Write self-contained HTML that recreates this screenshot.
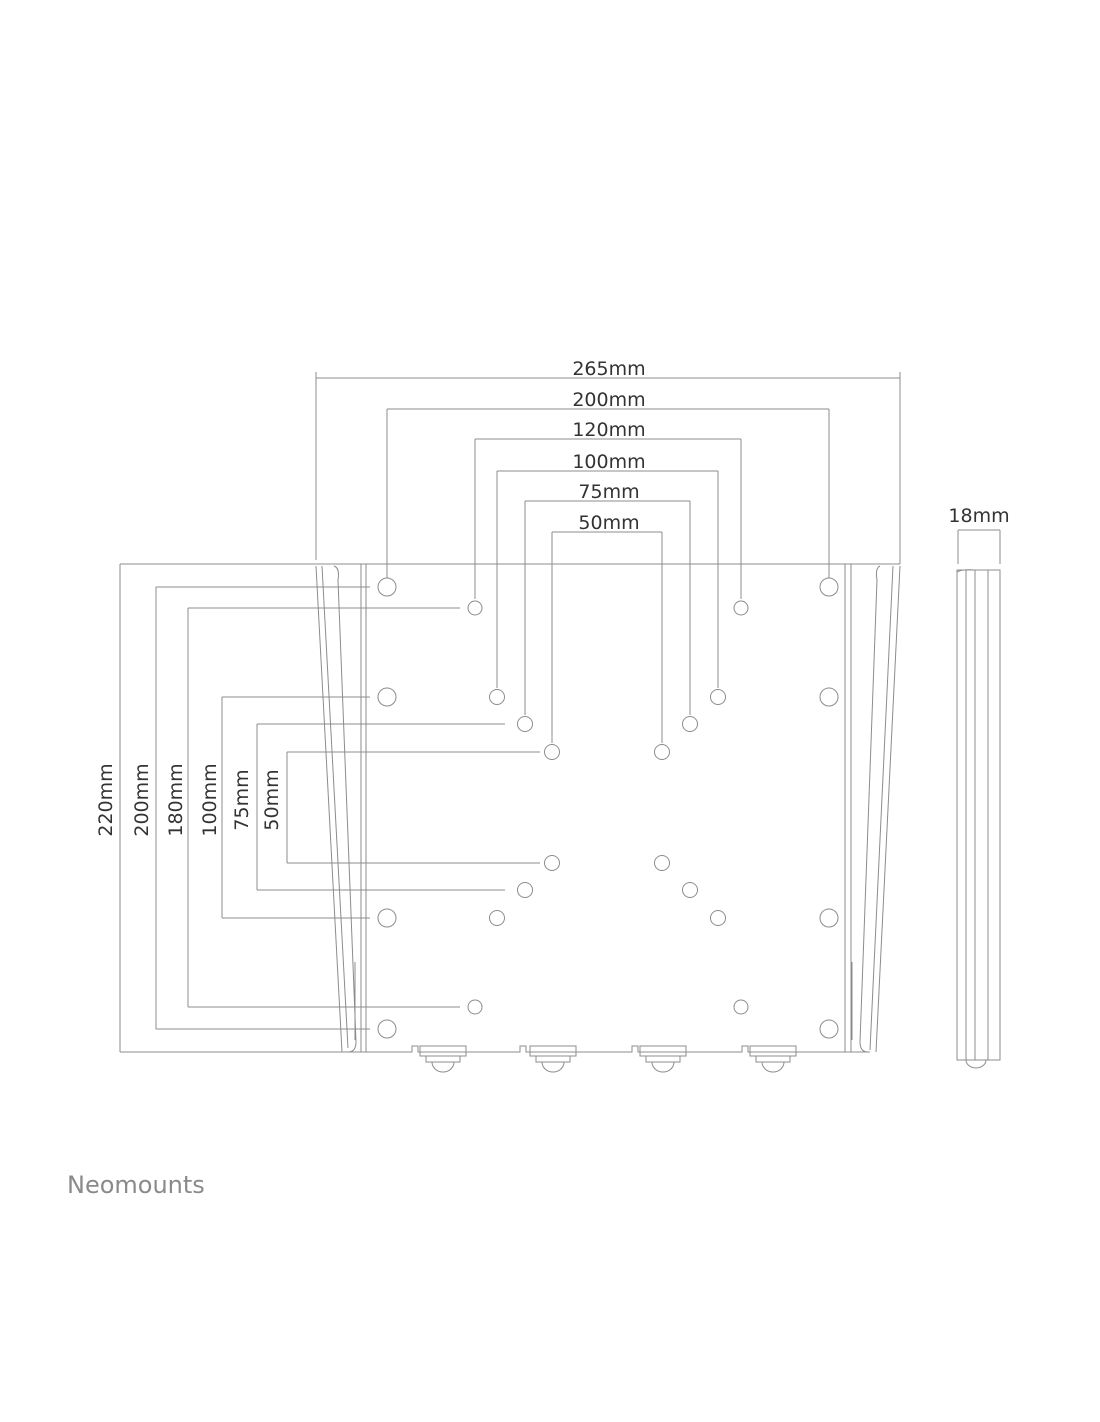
<!DOCTYPE html>
<html><head><style>
body{margin:0;background:#fff}
svg{display:block}
text{font-family:"DejaVu Sans","Liberation Sans",sans-serif;fill:#333}
</style></head><body>
<svg width="1100" height="1422" viewBox="0 0 1100 1422" xmlns="http://www.w3.org/2000/svg">
<g stroke="#8c8c8c" stroke-width="1" fill="none">
<path d="M316 378H900M316 372V560M900 372V564"/>
<path d="M387 409H829M387 409V578M829 409V578"/>
<path d="M475 439H741M475 439V599M741 439V599"/>
<path d="M497 471H718M497 471V688M718 471V688"/>
<path d="M525 501H690M525 501V715M690 501V715"/>
<path d="M552 532H662M552 532V743M662 532V743"/>
<path d="M120 564V1052M120 564H330M120 1052H330"/>
<path d="M156 587V1029M156 587H370M156 1029H370"/>
<path d="M188 608V1007M188 608H460M188 1007H460"/>
<path d="M222 697V918M222 697H370M222 918H370"/>
<path d="M257 724V890M257 724H505M257 890H505"/>
<path d="M287 752V863M287 752H540M287 863H540"/>
<path d="M300 564H900"/>
<path d="M330 1052H412V1046H418V1052H520V1046H526V1052H632V1046H638V1052H742V1046H748V1052H870"/>
<path d="M361 564V1052M366 564V1052M845 564V1052M851 564V1052"/>
<path d="M316 566L342 1052M322 566L348 1048M334 566Q340 568 338 580L356 1042Q356 1052 348 1052"/>
<path d="M355 962V1040M852 962V1040"/>
<path d="M900 566L876 1052M893 566L870 1050M880 566Q875 568 877 580L860 1042Q860 1052 868 1052"/>
<g>
<path d="M420 1046H466V1056H420ZM426 1056H460V1062H426ZM432 1062A11 10 0 0 0 454 1062"/>
<path d="M530 1046H576V1056H530ZM536 1056H570V1062H536ZM542 1062A11 10 0 0 0 564 1062"/>
<path d="M640 1046H686V1056H640ZM646 1056H680V1062H646ZM652 1062A11 10 0 0 0 674 1062"/>
<path d="M750 1046H796V1056H750ZM756 1056H790V1062H756ZM762 1062A11 10 0 0 0 784 1062"/>
</g>
<g>
<circle cx="387" cy="587" r="9"/><circle cx="829" cy="587" r="9"/>
<circle cx="475" cy="608" r="7"/><circle cx="741" cy="608" r="7"/>
<circle cx="387" cy="697" r="9"/><circle cx="829" cy="697" r="9"/>
<circle cx="497" cy="697" r="7.5"/><circle cx="718" cy="697" r="7.5"/>
<circle cx="525" cy="724" r="7.5"/><circle cx="690" cy="724" r="7.5"/>
<circle cx="552" cy="752" r="7.5"/><circle cx="662" cy="752" r="7.5"/>
<circle cx="552" cy="863" r="7.5"/><circle cx="662" cy="863" r="7.5"/>
<circle cx="525" cy="890" r="7.5"/><circle cx="690" cy="890" r="7.5"/>
<circle cx="497" cy="918" r="7.5"/><circle cx="718" cy="918" r="7.5"/>
<circle cx="387" cy="918" r="9"/><circle cx="829" cy="918" r="9"/>
<circle cx="475" cy="1007" r="7"/><circle cx="741" cy="1007" r="7"/>
<circle cx="387" cy="1029" r="9"/><circle cx="829" cy="1029" r="9"/>
</g>
<path d="M958 530V564M1000 530V564M958 530H1000"/>
<path d="M957 570H1000V1060H957ZM966 570V1060M975 570V1060M988 570V1060M957 572Q962 569 975 570"/>
<path d="M966 1060A10 8 0 0 0 986 1060"/>
</g>
<g font-size="19" text-anchor="middle">
<text x="609" y="375">265mm</text>
<text x="609" y="406">200mm</text>
<text x="609" y="436">120mm</text>
<text x="609" y="468">100mm</text>
<text x="609" y="498">75mm</text>
<text x="609" y="529">50mm</text>
<text x="979" y="522">18mm</text>
<text transform="translate(112 800) rotate(-90)">220mm</text>
<text transform="translate(148 800) rotate(-90)">200mm</text>
<text transform="translate(182 800) rotate(-90)">180mm</text>
<text transform="translate(216 800) rotate(-90)">100mm</text>
<text transform="translate(248 800) rotate(-90)">75mm</text>
<text transform="translate(278 800) rotate(-90)">50mm</text>
</g>
<text x="67" y="1193" font-size="24" style="fill:#8a8a8a">Neomounts</text>
</svg>
</body></html>
